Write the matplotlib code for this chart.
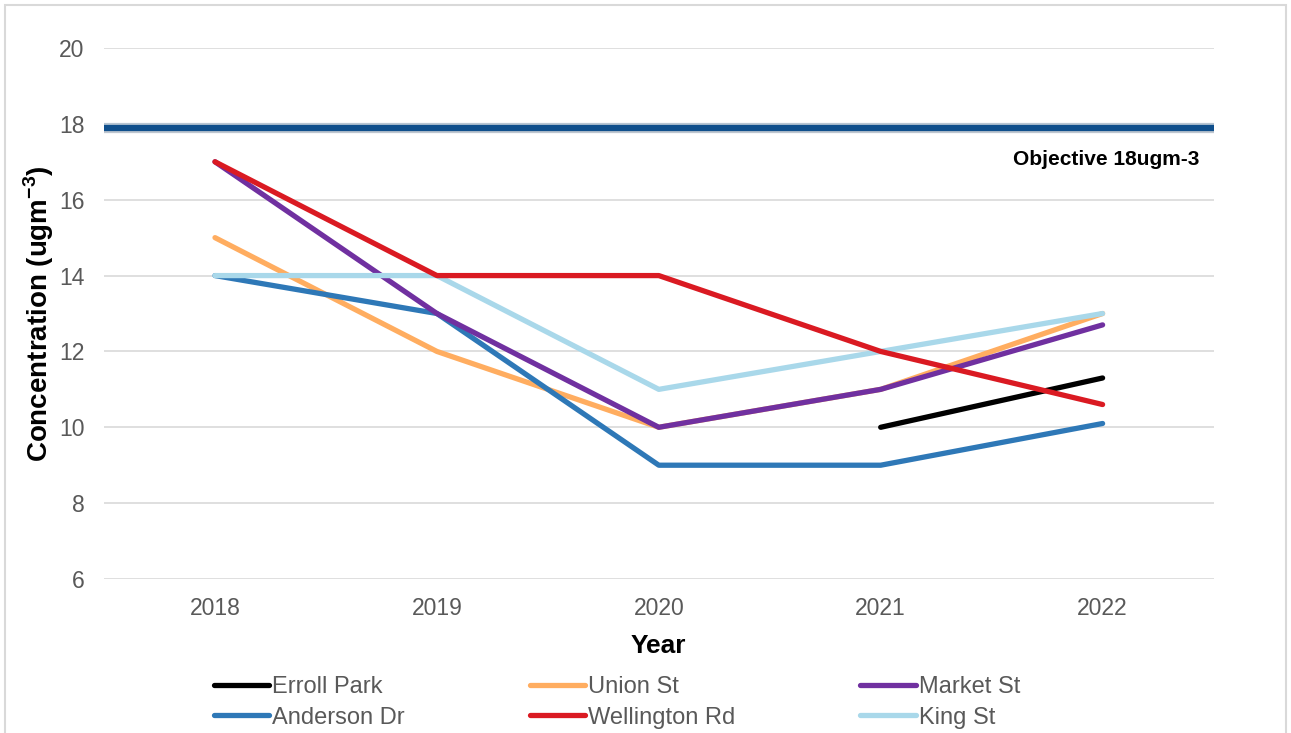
import matplotlib
matplotlib.use("Agg")
import matplotlib.pyplot as plt
import matplotlib.patheffects as pe
from matplotlib.patches import Rectangle

plt.rcParams['font.family'] = ['Liberation Sans', 'DejaVu Sans']
plt.rcParams['mathtext.fontset'] = 'custom'
plt.rcParams['mathtext.rm'] = 'Liberation Sans'
plt.rcParams['mathtext.bf'] = 'Liberation Sans:bold'

years = ['2018', '2019', '2020', '2021', '2022']
erroll_park = [None, None, None, 10.0, 11.3]
union_st = [15, 12, 10, 11, 13]
market_st = [17, 13, 10, 11, 12.7]
anderson_dr = [14, 13, 9, 9, 10.1]
wellington_rd = [17, 14, 14, 12, 10.6]
king_st = [14, 14, 11, 12, 13]
objective = 17.9

series = [
    ('Erroll Park', erroll_park, '#000000'),
    ('Anderson Dr', anderson_dr, '#2e78b7'),
    ('Union St', union_st, '#ffad60'),
    ('Wellington Rd', wellington_rd, '#da1a22'),
    ('Market St', market_st, '#7030a0'),
    ('King St', king_st, '#a9d8ea'),
]
# drawing order (later on top)
draw_order = ['Erroll Park', 'Union St', 'Anderson Dr', 'Market St', 'King St', 'Wellington Rd']

fig = plt.figure(figsize=(12.91, 7.33), dpi=100)
ax = fig.add_axes([0.0806, 0.2101, 0.8594, 0.7244])

x = list(range(len(years)))
handles = {}
for name in draw_order:
    label, vals, col = next(s for s in series if s[0] == name)
    xs = [i for i, v in zip(x, vals) if v is not None]
    ys = [v for v in vals if v is not None]
    ln, = ax.plot(xs, ys, color=col, lw=3.8, solid_capstyle='round', label=label, zorder=3)
    handles[label] = ln

ax.axhline(objective, color='#0f4f8c', lw=4.5, zorder=4,
           path_effects=[pe.SimpleLineShadow(offset=(0, 1.2), shadow_color='#9fb6cc', alpha=0.6),
                         pe.SimpleLineShadow(offset=(0, -1.8), shadow_color='#7f8fa0', alpha=0.5),
                         pe.Normal()])
ax.text(4.437, 17.05, 'Objective 18ugm-3', ha='right', va='center',
        fontsize=15, fontweight='bold', color='black', zorder=5)

ax.set_xlim(-0.5, 4.5)
ax.set_ylim(6, 20)
ax.set_xticks(x)
ax.set_xticklabels(years)
ax.set_yticks(range(6, 21, 2))
ax.tick_params(length=0, labelsize=16.5, labelcolor='#595959')
ax.tick_params(axis='y', pad=14)
ax.tick_params(axis='x', pad=13)
ax.grid(axis='y', color='#d9d9d9', lw=1.2, zorder=0)
ax.set_axisbelow(True)
for s in ax.spines.values():
    s.set_visible(False)

ax.set_xlabel('Year', fontsize=19, fontweight='bold', labelpad=10)
ax.set_ylabel(r'Concentration (ugm$^{\mathbf{-3}}$)', fontsize=20, fontweight='bold', labelpad=2)

leg = fig.legend([handles[s[0]] for s in series], [s[0] for s in series],
                 ncol=3, loc='lower left', bbox_to_anchor=(0.149, -0.023),
                 frameon=False, fontsize=17, handlelength=2.35, handletextpad=0.12,
                 columnspacing=5.3, labelspacing=0.35, labelcolor='#595959')

fig.add_artist(Rectangle((0.004, -0.01), 0.992, 1.003, transform=fig.transFigure,
                         fill=False, edgecolor='#d9d9d9', lw=1.5))

fig.savefig('out.png', dpi=100)
